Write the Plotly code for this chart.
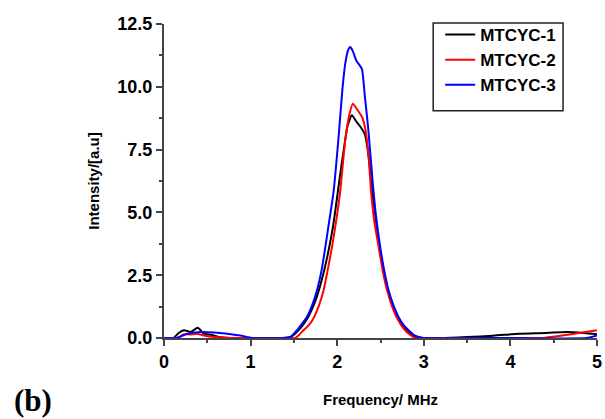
import plotly.graph_objects as go

# MTCYC-1 (black)
x1 = [0, 0.11, 0.17, 0.23, 0.31, 0.39, 0.46, 0.54, 0.63, 0.73, 1.0, 1.35, 1.46, 1.55, 1.65, 1.75, 1.85, 1.95,
      2.03, 2.08, 2.12, 2.17, 2.22, 2.27, 2.32, 2.36, 2.40, 2.45, 2.49, 2.54, 2.59, 2.65, 2.7, 2.76, 2.82, 2.88,
      2.93, 2.98, 3.2, 3.5, 3.8, 4.1, 4.4, 4.65, 4.85, 5.0]
y1 = [0, 0, 0.2, 0.31, 0.24, 0.41, 0.17, 0.13, 0.04, 0, 0, 0, 0.04, 0.3, 0.75, 1.5, 2.7, 4.4,
      6.4, 7.6, 8.45, 8.87, 8.62, 8.4, 8.1, 7.3, 5.95, 4.6, 3.6, 2.6, 1.85, 1.2, 0.8, 0.45, 0.25, 0.1,
      0.03, 0, 0, 0.04, 0.09, 0.17, 0.2, 0.24, 0.2, 0.15]

# MTCYC-2 (red)
x2 = [0, 0.15, 0.23, 0.30, 0.38, 0.46, 0.58, 0.66, 0.77, 1.0, 1.4, 1.517, 1.56, 1.61, 1.67, 1.728, 1.79, 1.843,
      1.89, 1.94, 1.99, 2.036, 2.093, 2.143, 2.182, 2.23, 2.286, 2.32, 2.344, 2.37, 2.39, 2.43, 2.48, 2.53, 2.58,
      2.64, 2.69, 2.75, 2.8, 2.86, 2.9, 3.0, 3.5, 4.0, 4.36, 4.7, 5.0]
y2 = [0, 0, 0.15, 0.14, 0.17, 0.1, 0.04, 0.03, 0, 0, 0, 0, 0.12, 0.31, 0.5, 0.8, 1.3, 1.9,
      2.7, 3.62, 4.7, 5.88, 7.87, 8.93, 9.33, 9.1, 8.8, 8.4, 7.87, 6.9, 5.88, 4.6, 3.6, 2.6, 1.85,
      1.2, 0.8, 0.45, 0.25, 0.08, 0, 0, 0, 0, 0, 0.15, 0.31]

# MTCYC-3 (blue)
x3 = [0, 0.15, 0.27, 0.42, 0.58, 0.73, 0.88, 1.03, 1.4, 1.46, 1.536, 1.6, 1.65, 1.71, 1.767, 1.82, 1.863, 1.91,
      1.96, 2.016, 2.06, 2.093, 2.125, 2.151, 2.18, 2.22, 2.26, 2.286, 2.32, 2.36, 2.41, 2.45, 2.497, 2.545, 2.593,
      2.65, 2.708, 2.77, 2.824, 2.88, 2.94, 3.0, 4.0, 4.88, 5.0]
y3 = [0, 0, 0.17, 0.24, 0.22, 0.17, 0.1, 0, 0, 0.04, 0.31, 0.6, 0.84, 1.3, 1.9, 2.7, 3.62, 4.7,
      5.88, 8.0, 9.9, 10.92, 11.45, 11.58, 11.42, 11.05, 10.85, 10.7, 9.6, 8.27, 6.2, 4.8, 3.62, 2.65, 1.9,
      1.3, 0.84, 0.5, 0.31, 0.13, 0.04, 0, 0, 0, 0.1]

names = ["MTCYC-1", "MTCYC-2", "MTCYC-3"]
colors = ["#000000", "#ff0000", "#0000ff"]

fig = go.Figure()
for xs, ys, n, c in zip([x1, x2, x3], [y1, y2, y3], names, colors):
    fig.add_trace(go.Scatter(x=xs, y=ys, name="<b>%s</b>" % n, mode="lines",
                             line=dict(color=c, width=2, shape="spline", smoothing=0.6),
                             cliponaxis=False))

W, H = 605, 419
ml, mr, mt, mb = 163.5, 8, 24, 81
pw, ph = W - ml - mr, H - mt - mb


def px(xp):
    return (xp - ml) / pw


def py(yp):
    return (H - mb - yp) / ph


font_fam = "Liberation Sans, Arial"
xtick = ["0", "1", "2", "3", "4", "5"]
ytick = ["0.0", "2.5", "5.0", "7.5", "10.0", "12.5"]
fig.update_layout(
    width=W, height=H,
    margin=dict(l=ml, r=mr, t=mt, b=mb, autoexpand=False),
    paper_bgcolor="white", plot_bgcolor="white",
    showlegend=True,
    legend=dict(x=px(440), y=py(17), xanchor="left", yanchor="top",
                bgcolor="rgba(0,0,0,0)", borderwidth=0,
                font=dict(family=font_fam, size=17, color="black"),
                tracegroupgap=0, itemwidth=30),
    xaxis=dict(range=[0, 5], tickvals=[0, 1, 2, 3, 4, 5], ticktext=["<b>%s</b>" % t for t in xtick],
               automargin=False,
               showgrid=False, zeroline=False, showline=True, linecolor="#444", linewidth=2,
               ticks="outside", ticklen=6, tickwidth=1.5, tickcolor="#444",
               minor=dict(dtick=0.5, ticks="outside", ticklen=3, tickwidth=1.5, tickcolor="#444"),
               tickfont=dict(family=font_fam, size=18, color="black"),
               title=dict(text="<b>Frequency/ MHz</b>", font=dict(family=font_fam, size=15, color="black"),
                          standoff=24)),
    yaxis=dict(range=[0, 12.5], tickvals=[0, 2.5, 5, 7.5, 10, 12.5], ticktext=["<b>%s</b>" % t for t in ytick],
               automargin=False,
               showgrid=False, zeroline=False, showline=True, linecolor="#444", linewidth=2,
               ticks="outside", ticklen=6, tickwidth=1.5, tickcolor="#444",
               minor=dict(dtick=1.25, ticks="outside", ticklen=3, tickwidth=1.5, tickcolor="#444"),
               tickfont=dict(family=font_fam, size=18, color="black"),
               title=dict(text="<b>Intensity/[a.u]</b>", font=dict(family=font_fam, size=15, color="black"),
                          standoff=14)),
)

fig.add_shape(type="rect", xref="paper", yref="paper", x0=px(433), x1=px(563), y0=py(110.7), y1=py(23),
              line=dict(color="#222", width=1.5), fillcolor="rgba(0,0,0,0)")

fig.add_annotation(text="<b>(b)</b>", xref="paper", yref="paper", x=px(11), y=py(400),
                   xanchor="left", yanchor="middle", showarrow=False,
                   font=dict(family="Liberation Serif, Times New Roman", size=31, color="black"))

fig.write_html("out.html")
